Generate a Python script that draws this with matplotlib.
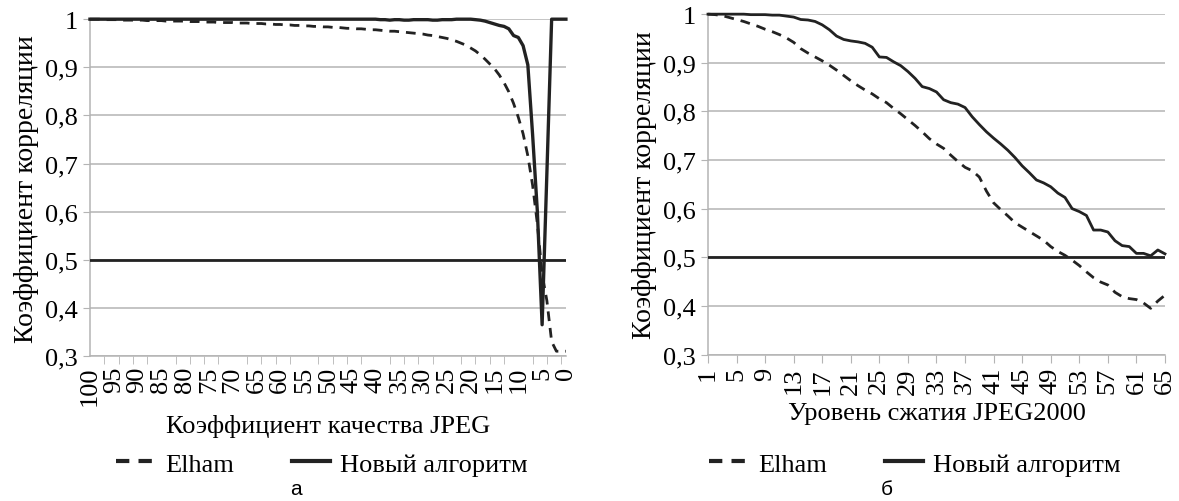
import numpy as np
import matplotlib
matplotlib.use('Agg')
import matplotlib.pyplot as plt
from matplotlib.lines import Line2D
from matplotlib.font_manager import FontProperties, findfont

# ---- данные: JPEG (коэффициент качества 100 -> 0) ----
jpeg_quality = list(range(100, -1, -1))
jpeg_elham = [
    1.000, 1.000, 1.000, 0.999, 0.999, 0.999, 0.999, 0.998, 0.998, 0.998,  # 100..91
    0.998, 0.998, 0.997, 0.997, 0.997, 0.997, 0.996, 0.996, 0.996, 0.996,  # 90..81
    0.996, 0.995, 0.995, 0.995, 0.994, 0.994, 0.994, 0.993, 0.993, 0.993,  # 80..71
    0.993, 0.992, 0.992, 0.992, 0.991, 0.991, 0.991, 0.990, 0.990, 0.989,  # 70..61
    0.989, 0.988, 0.988, 0.987, 0.987, 0.986, 0.986, 0.985, 0.985, 0.984,  # 60..51
    0.984, 0.983, 0.983, 0.982, 0.981, 0.981, 0.980, 0.980, 0.979, 0.978,  # 50..41
    0.978, 0.977, 0.976, 0.975, 0.975, 0.974, 0.973, 0.972, 0.971, 0.970,  # 40..31
    0.969, 0.967, 0.966, 0.964, 0.962, 0.960, 0.957, 0.954, 0.950, 0.946,  # 30..21
    0.940, 0.934, 0.926, 0.917, 0.907, 0.897, 0.884, 0.868, 0.849, 0.825,  # 20..11
    0.796, 0.762, 0.716, 0.655, 0.575, 0.470, 0.415, 0.330, 0.310, 0.310,  # 10..1
    0.310,                                                                 # 0
]
jpeg_new = [
    1.000, 1.000, 1.000, 1.000, 1.000, 1.000, 1.000, 1.000, 1.000, 1.000,  # 100..91
    1.000, 1.000, 1.000, 1.000, 1.000, 1.000, 1.000, 1.000, 1.000, 1.000,  # 90..81
    1.000, 1.000, 1.000, 1.000, 1.000, 1.000, 1.000, 1.000, 1.000, 1.000,  # 80..71
    1.000, 1.000, 1.000, 1.000, 1.000, 1.000, 1.000, 1.000, 1.000, 1.000,  # 70..61
    1.000, 1.000, 1.000, 1.000, 1.000, 1.000, 1.000, 1.000, 1.000, 1.000,  # 60..51
    1.000, 1.000, 1.000, 1.000, 1.000, 1.000, 1.000, 1.000, 1.000, 1.000,  # 50..41
    1.000, 0.999, 0.999, 0.998, 0.999, 0.999, 0.998, 0.998, 0.999, 0.999,  # 40..31
    0.999, 0.999, 0.998, 0.998, 0.999, 0.999, 0.999, 1.000, 1.000, 1.000,  # 30..21
    1.000, 0.999, 0.998, 0.996, 0.993, 0.990, 0.987, 0.985, 0.980, 0.966,  # 20..11
    0.962, 0.945, 0.905, 0.760, 0.600, 0.365, 0.680, 1.000, 1.000, 1.000,  # 10..1
    1.000,                                                                 # 0
]

# ---- данные: JPEG2000 (уровень сжатия 1..65) ----
j2k_level = list(range(1, 66))
j2k_elham = [
    1.000, 0.999, 0.997, 0.993, 0.989, 0.985, 0.980, 0.975, 0.969, 0.964,
    0.958, 0.951, 0.942, 0.929, 0.920, 0.912, 0.904, 0.895, 0.885, 0.874,
    0.863, 0.853, 0.844, 0.836, 0.826, 0.818, 0.806, 0.795, 0.783, 0.771,
    0.758, 0.744, 0.733, 0.724, 0.710, 0.697, 0.685, 0.678, 0.665, 0.636,
    0.612, 0.598, 0.585, 0.571, 0.562, 0.553, 0.544, 0.535, 0.522, 0.512,
    0.504, 0.494, 0.483, 0.470, 0.458, 0.449, 0.443, 0.428, 0.419, 0.415,
    0.413, 0.406, 0.395, 0.410, 0.422,
]
j2k_new = [
    1.000, 1.000, 1.000, 1.000, 1.000, 1.000, 0.999, 0.999, 0.999, 0.998,
    0.998, 0.996, 0.994, 0.989, 0.988, 0.985, 0.978, 0.968, 0.955, 0.948,
    0.945, 0.943, 0.940, 0.932, 0.912, 0.911, 0.902, 0.894, 0.882, 0.868,
    0.851, 0.847, 0.840, 0.824, 0.818, 0.815, 0.808, 0.789, 0.773, 0.758,
    0.745, 0.733, 0.720, 0.705, 0.688, 0.674, 0.659, 0.653, 0.645, 0.632,
    0.623, 0.600, 0.594, 0.586, 0.556, 0.556, 0.552, 0.534, 0.524, 0.522,
    0.508, 0.508, 0.503, 0.515, 0.507,
]

threshold = 0.5
y_ticks = [0.3, 0.4, 0.5, 0.6, 0.7, 0.8, 0.9, 1.0]
y_labels = ['0,3', '0,4', '0,5', '0,6', '0,7', '0,8', '0,9', '1']

names = ['Elham', 'Новый алгоритм']

FS = 19
serif_file = findfont(FontProperties(family='Liberation Serif'))
sans_file = findfont(FontProperties(family='Liberation Sans'))
fp = FontProperties(fname=serif_file, size=FS)
fp_ylab = FontProperties(fname=serif_file, size=20)
fp_cap = FontProperties(fname=sans_file, size=15)

grid_c = '#b4b4b4'
line_c = '#222222'

fig = plt.figure(figsize=(11.79, 5.02), dpi=100)
ax1 = fig.add_axes([0.0763, 0.2888, 0.4037, 0.671])
ax2 = fig.add_axes([0.6005, 0.2918, 0.3876, 0.678])


def style_axes(ax):
    ax.set_ylim(0.3, 1.0)
    ax.set_yticks(y_ticks)
    ax.set_yticklabels(y_labels, fontproperties=fp)
    ax.yaxis.grid(True, color=grid_c, linewidth=1.1)
    ax.set_axisbelow(True)
    for s in ['top', 'right']:
        ax.spines[s].set_visible(False)
    for s in ['left', 'bottom']:
        ax.spines[s].set_color(grid_c)
        ax.spines[s].set_linewidth(1.1)
    ax.tick_params(axis='y', length=5, color=grid_c, pad=4)
    ax.tick_params(axis='x', color=grid_c)
    ax.axhline(threshold, color=line_c, linewidth=2.0, zorder=3)
    ax.set_ylabel('Коэффициент корреляции', fontproperties=fp_ylab,
                  labelpad=4)


# а) JPEG
ax1.plot(jpeg_quality, jpeg_elham, color=line_c, linewidth=2.0,
         dashes=(3.5, 2.5), zorder=4, clip_on=False)
ax1.plot(jpeg_quality, jpeg_new, color=line_c, linewidth=2.4, zorder=5,
         clip_on=False)
style_axes(ax1)
ax1.set_xlim(100, 0)
ax1.set_xticks(list(range(100, -1, -5)))
ax1.set_xticklabels([str(v) for v in range(100, -1, -5)], rotation=90,
                    fontproperties=fp)
ax1.set_xticks(list(range(100, -1, -3)), minor=True)
ax1.tick_params(axis='x', which='major', length=0, pad=7)
ax1.tick_params(axis='x', which='minor', length=6, color=grid_c)
ax1.set_xlabel('Коэффициент качества JPEG', fontproperties=fp, labelpad=6)

# б) JPEG2000
ax2.plot(j2k_level, j2k_elham, color=line_c, linewidth=2.0,
         dashes=(3.5, 2.5), zorder=4, clip_on=False)
ax2.plot(j2k_level, j2k_new, color=line_c, linewidth=2.0, zorder=5,
         clip_on=False)
style_axes(ax2)
ax2.set_xlim(1, 65)
ax2.set_xticks(list(range(1, 66, 4)))
ax2.set_xticklabels([str(v) for v in range(1, 66, 4)], rotation=90,
                    fontproperties=fp)
ax2.tick_params(axis='x', length=6, pad=3)
ax2.set_xlabel('Уровень сжатия JPEG2000', fontproperties=fp, labelpad=6)

# легенды
handles = [Line2D([], [], color=line_c, linewidth=3.0, dashes=(3.2, 2.2)),
           Line2D([], [], color=line_c, linewidth=3.0)]
for cx in [322 / 1179, 915 / 1179]:
    fig.legend(handles, names, loc='center', bbox_to_anchor=(cx, 0.074),
               ncol=2, frameon=False, prop=fp,
               handlelength=1.45, handletextpad=0.4, columnspacing=2.2)

fig.text(296 / 1179, 0.025, 'а', ha='center', va='center',
         fontproperties=fp_cap)
fig.text(887 / 1179, 0.025, 'б', ha='center', va='center',
         fontproperties=fp_cap)

fig.savefig('out.png', dpi=100)
